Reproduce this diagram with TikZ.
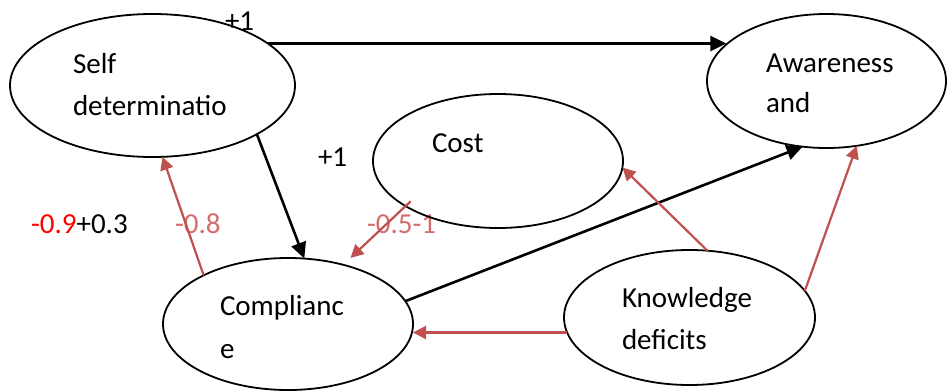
\documentclass[tikz,border=0pt]{standalone}
\usepackage{fontspec}
\setmainfont{Carlito}
\usetikzlibrary{arrows.meta,shapes.geometric}
\definecolor{arrred}{HTML}{C0504D}
\definecolor{lblred}{RGB}{212,108,106}
\definecolor{purered}{RGB}{255,0,0}
\begin{document}
\begin{tikzpicture}[x=1pt,y=-1pt,
  ell/.style={draw=black, line width=1.8pt, ellipse, inner sep=0pt, outer sep=0pt},
  txt/.style={anchor=base west, inner sep=0pt, outer sep=0pt, font=\fontsize{29pt}{42pt}\selectfont},
  blkarr/.style={draw=black, line width=2.6pt, -{Triangle[length=16pt,width=15pt]}},
  redarr/.style={draw=arrred, line width=2.2pt, -{Triangle[length=13pt,width=13pt]}}]
\useasboundingbox (0,0) rectangle (948,391);

% labels (drawn first, lines pass over them)
\node[txt] (l1) at (225,30) {+1};
\node[txt] (l2) at (318,166) {+1};
\node[txt] (l3) at (31,233) {\textcolor{purered}{-0.9}+0.3};
\node[txt, text=lblred] (l4) at (175,233) {-0.8};
\node[txt, text=lblred] (l5) at (367,233) {-0.5-1};

% node texts
\node[txt] (s1) at (73,73) {Self};
\node[txt] (s2) at (73,115) {determinatio};
\node[txt] (a1) at (766,72) {Awareness};
\node[txt] (a2) at (766,112) {and};
\node[txt] (c1) at (432,152) {Cost};
\node[txt] (p1) at (220,315) {Complianc};
\node[txt] (p2) at (220,358) {e};
\node[txt] (k1) at (622,307) {Knowledge};
\node[txt] (k2) at (622,349) {deficits};

% ellipses
\node[ell, minimum width=285pt, minimum height=143pt] (S) at (152.5,85.5) {};
\node[ell, minimum width=239pt, minimum height=134pt] (A) at (826.5,81) {};
\node[ell, minimum width=250pt, minimum height=134pt] (C) at (498,161) {};
\node[ell, minimum width=250pt, minimum height=132pt] (P) at (288,324) {};
\node[ell, minimum width=251pt, minimum height=135pt] (K) at (689.5,317.5) {};

% connectors
\draw[blkarr] (S.20) -- (A.160 |- S.20);
\draw[blkarr] (S.-25) -- (P.76);
\draw[blkarr] (P.11) -- (A.-110);
\draw[redarr] (P.150) -- (S.-82.5);
\draw[redarr, shorten <=-7pt, shorten >=10pt] (C.206) -- (P.47.5);
\draw[redarr] (K.75) -- (C.-3);
\draw[redarr] (K.13.6) -- (A.-65);
\draw[redarr] (K.187) -- (P.east |- K.187);
\end{tikzpicture}
\end{document}
